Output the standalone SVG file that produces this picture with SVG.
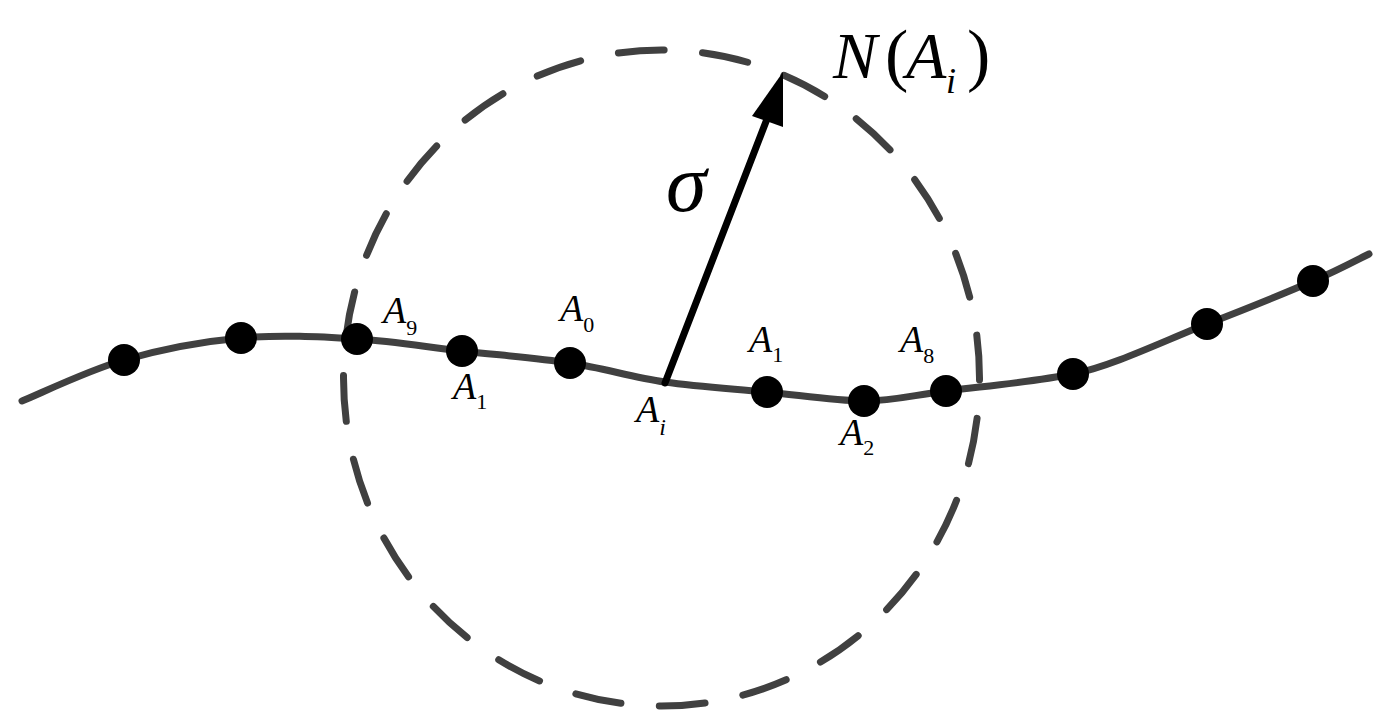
<svg xmlns="http://www.w3.org/2000/svg" width="1391" height="727" viewBox="0 0 1391 727">
<style>
.curve{fill:none;stroke:#404040;stroke-width:7;stroke-linecap:round}
.circ{fill:none;stroke:#404040;stroke-width:7;stroke-linecap:round;stroke-dasharray:46 38.57;stroke-dashoffset:44}
.dot{fill:#000}
text{font-family:'Liberation Serif','DejaVu Serif',serif;fill:#000}
.lbl{font-style:italic;font-size:38px}
.sub{font-style:normal;font-size:22px}
.big{font-style:italic;font-size:66px}
.par{font-style:normal;font-size:70px}
</style>
<rect width="1391" height="727" fill="#fff"/>
<g id="connectors">
<path class="curve" d="M22,401 C39,394.2 87.5,370.5 124,360 C160.5,349.5 202.2,341.5 241,338 C279.8,334.5 320.2,336.8 357,339 C393.8,341.2 426.5,347 462,351 C497.5,355 536.2,357.8 570,363 C603.8,368.2 632.2,377.2 665,382 C697.8,386.8 733.8,388.8 767,392 C800.2,395.2 834.2,400.8 864,401 C893.8,400.8 911.2,395.5 946,391 C980.8,386.5 1033,382 1073,374 C1113,366 1167,339.5 1207,324 C1247,308.5 1286,292.7 1313,281 C1340,269.3 1359.7,258.5 1369,254"/>
<ellipse class="circ" cx="661.5" cy="378" rx="318" ry="328"/>
<line x1="665" y1="383" x2="767" y2="119" stroke="#000" stroke-width="7" stroke-linecap="round"/>
<polygon points="783,72 752,116 783,127" fill="#000"/>
</g>
<g id="dots">
<circle class="dot" cx="124" cy="360" r="16"/>
<circle class="dot" cx="241" cy="338" r="16"/>
<circle class="dot" cx="357" cy="339" r="16"/>
<circle class="dot" cx="462" cy="351" r="16"/>
<circle class="dot" cx="570" cy="363" r="16"/>
<circle class="dot" cx="767" cy="392" r="16"/>
<circle class="dot" cx="864" cy="401" r="16"/>
<circle class="dot" cx="946" cy="391" r="16"/>
<circle class="dot" cx="1073" cy="374" r="16"/>
<circle class="dot" cx="1207" cy="324" r="16"/>
<circle class="dot" cx="1313" cy="281" r="16"/>
</g>
<g id="labels">
<text class="lbl" x="383" y="323">A<tspan class="sub" dy="12">9</tspan></text>
<text class="lbl" x="453" y="399">A<tspan class="sub" dy="10">1</tspan></text>
<text class="lbl" x="560" y="321">A<tspan class="sub" dy="11">0</tspan></text>
<text class="lbl" x="636" y="422">A<tspan style="font-size:24px" dy="13">i</tspan></text>
<text class="lbl" x="749" y="352">A<tspan class="sub" dy="10">1</tspan></text>
<text class="lbl" x="900" y="352">A<tspan class="sub" dy="11">8</tspan></text>
<text class="lbl" x="840" y="445">A<tspan class="sub" dy="10">2</tspan></text>
</g>
<g id="title">
<text class="big" x="833" y="78">N</text>
<text class="par" x="885" y="78">(</text>
<text class="big" x="906" y="78">A</text>
<text class="lbl" style="font-size:36px" x="946" y="93">i</text>
<text class="par" x="967" y="78">)</text>
</g>
<g id="sigma">
<text class="big" style="font-size:82px" x="666" y="211">σ</text>
</g>
</svg>
